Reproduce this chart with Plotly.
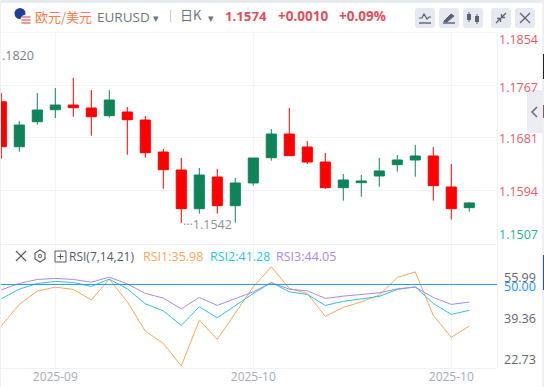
import plotly.graph_objects as go

W, H = 544, 387

# ---------- data ----------
open_ = [1.17396, 1.16658, 1.17068, 1.17265, 1.17342, 1.17293, 1.17167, 1.17227, 1.17096, 1.16571,
         1.16276, 1.15641, 1.16161, 1.15691, 1.16063, 1.16478, 1.16866, 1.16653, 1.16407, 1.15986,
         1.16068, 1.16178, 1.16363, 1.16440, 1.16506, 1.15997, 1.15658]
close = [1.16658, 1.17014, 1.17260, 1.17342, 1.17298, 1.17150, 1.17424, 1.17101, 1.16560, 1.16281,
         1.15641, 1.16194, 1.15691, 1.16063, 1.16473, 1.16866, 1.16511, 1.16407, 1.15986, 1.16112,
         1.16096, 1.16260, 1.16440, 1.16506, 1.16019, 1.15641, 1.15735]
high = [1.17539, 1.17080, 1.17539, 1.17621, 1.17785, 1.17588, 1.17588, 1.17309, 1.17162, 1.16620,
        1.16473, 1.16309, 1.16292, 1.16145, 1.16473, 1.16948, 1.17293, 1.16752, 1.16555, 1.16210,
        1.16194, 1.16473, 1.16522, 1.16686, 1.16653, 1.16374, 1.15751]
low = [1.16461, 1.16576, 1.17019, 1.17129, 1.17150, 1.16839, 1.17134, 1.16527, 1.16478, 1.15969,
       1.15407, 1.15559, 1.15559, 1.15412, 1.16019, 1.16429, 1.16511, 1.16374, 1.15964, 1.15773,
       1.15838, 1.16002, 1.16248, 1.16166, 1.15773, 1.15461, 1.15592]
rsi1 = [36.06, 43.27, 47.74, 49.09, 48.32, 44.81, 51.78, 44.14, 34.28, 30.13, 22.49, 37.98, 31.48, 40.24,
        49.19, 55.93, 48.65, 46.97, 39.23, 42.26, 44.14, 46.40, 52.36, 54.24, 39.56, 32.15, 35.98]
rsi2 = [45.15, 48.42, 50.34, 51.01, 50.67, 49.33, 51.78, 48.52, 43.47, 41.11, 36.20, 42.46, 38.75, 42.79,
        46.97, 50.67, 47.51, 46.63, 42.93, 44.28, 45.05, 45.96, 48.32, 49.19, 43.60, 39.90, 41.28]
rsi3 = [48.18, 50.34, 51.68, 52.02, 51.68, 50.77, 52.46, 50.20, 46.97, 45.39, 41.78, 45.62, 42.93, 45.29,
        47.51, 50.54, 48.42, 47.85, 45.29, 46.06, 46.63, 47.17, 48.52, 49.09, 45.62, 43.27, 44.05]
bar_index = list(range(len(close)))
month_ticks = [3, 14, 25]
month_labels = ["2025-09", "2025-10", "2025-10"]
price_ticks = [1.1854, 1.1767, 1.1681, 1.1594, 1.1507]
rsi_ticks = [55.99, 39.36, 22.73]

# ---------- styles ----------
RED = "#FF0000"
GREEN = "#108459"
ORANGE = "#F6A75F"
CYAN = "#30C3DA"
PURPLE = "#A98BE6"
BLUE = "#2196F3"
GRID = "#F3F4F8"
TXT_RED = "#E45B69"
FONT = "Open Sans, Noto Sans, sans-serif"
CJK = "Noto Sans CJK SC, sans-serif"


def px(x):
    return x / W


def py(y):
    return 1 - y / H


fig = go.Figure()
fig.add_trace(go.Candlestick(
    x=bar_index, open=open_, high=high, low=low, close=close,
    increasing=dict(line=dict(color=GREEN, width=1), fillcolor=GREEN),
    decreasing=dict(line=dict(color=RED, width=1), fillcolor=RED),
    whiskerwidth=0, xaxis="x", yaxis="y", hoverinfo="skip",
))
for vals, col in ((rsi1, ORANGE), (rsi2, CYAN), (rsi3, PURPLE)):
    fig.add_trace(go.Scatter(x=bar_index, y=vals, mode="lines", line=dict(color=col, width=1),
                             xaxis="x2", yaxis="y2", hoverinfo="skip"))

shapes = []


def rect(x0, y0, x1, y1, fill, layer="below", line=None):
    shapes.append(dict(type="rect", xref="paper", yref="paper", x0=px(x0), x1=px(x1), y0=py(y0), y1=py(y1),
                       fillcolor=fill, line=dict(width=0) if line is None else line, layer=layer))


def path(pts, color, width=1.3, fill=None, close_it=False):
    d = "M" + " L".join(f"{px(a):.5f},{py(b):.5f}" for a, b in pts) + (" Z" if close_it else "")
    shapes.append(dict(type="path", xref="paper", yref="paper", path=d, layer="above",
                       line=dict(color=color, width=width), fillcolor=fill))


def circle(cx, cy, r, fill):
    shapes.append(dict(type="circle", xref="paper", yref="paper", x0=px(cx - r), x1=px(cx + r),
                       y0=py(cy + r), y1=py(cy - r), fillcolor=fill, line=dict(width=0), layer="above"))


# page chrome
rect(0, 0, W, 3, "#E7EAEF")
rect(0, 0, 1, H, "#EEF0F4")
rect(542, 0, W, H, "#EEF0F4")
rect(543, 54, W, 79, "#222222", "above")
rect(543, 105, W, 118, "#8A5A50", "above")
rect(543, 255, W, 290, "#2A4FA8", "above")
rect(1, 32, 497, 33, "#F5F6F9")
rect(497, 33, 498, 368, "#EFF1F5")
rect(1, 244, 497, 245, "#EEF0F5", "above")
rect(1, 368, 497, 369, "#EEF0F5", "above")
rect(527, 90, 542, 133, "#ECEDF2", "above")
path([(537, 107), (532, 112), (537, 117)], "#6B7080", 1.6)

# flags
circle(20, 13.5, 5.5, "#1E3F98")
circle(26, 20, 5.5, "#F4F4F6")
for yy in (17, 20, 23):
    path([(21.5, yy), (30.5, yy)], "#D9606A", 1.2)

# toolbar buttons
for x0 in (415, 439, 463, 491, 515):
    shapes.append(dict(type="path", xref="paper", yref="paper", layer="below", fillcolor="#E6E9F0",
                       line=dict(width=0),
                       path=(f"M{px(x0+3):.5f},{py(8):.5f} L{px(x0+17):.5f},{py(8):.5f} Q{px(x0+20):.5f},{py(8):.5f} {px(x0+20):.5f},{py(11):.5f} "
                             f"L{px(x0+20):.5f},{py(25):.5f} Q{px(x0+20):.5f},{py(28):.5f} {px(x0+17):.5f},{py(28):.5f} "
                             f"L{px(x0+3):.5f},{py(28):.5f} Q{px(x0):.5f},{py(28):.5f} {px(x0):.5f},{py(25):.5f} "
                             f"L{px(x0):.5f},{py(11):.5f} Q{px(x0):.5f},{py(8):.5f} {px(x0+3):.5f},{py(8):.5f} Z")))
ICON = "#5C6270"
path([(419, 18), (422, 18), (424, 14), (427, 19), (429, 17), (431, 17)], ICON, 1.2)
path([(419, 23), (431, 23)], ICON, 1.4)
path([(444, 21), (451, 14), (454, 16), (447, 22), (444, 22)], ICON, 1, ICON, True)
path([(443, 23), (455, 23)], ICON, 1.4)
path([(469, 12), (469, 22)], ICON, 1)
path([(477, 14), (477, 24)], ICON, 1)
rect(467, 14, 471, 20, ICON, "above")
rect(475, 16, 479, 22, ICON, "above")
path([(496, 23), (500, 19)], ICON, 1.3)
path([(497, 18.5), (500.5, 18.5), (500.5, 22)], ICON, 1.3)
path([(506, 13), (502, 17)], ICON, 1.3)
path([(501.5, 14), (501.5, 17.5), (505, 17.5)], ICON, 1.3)
path([(520, 13), (530, 23)], ICON, 1.2)
path([(530, 13), (520, 23)], ICON, 1.2)
path([(170.5, 10), (170.5, 22)], "#C9CDD6", 1)

# RSI pane controls
path([(16, 251), (26, 261)], "#555A66", 1.2)
path([(26, 251), (16, 261)], "#555A66", 1.2)
path([(40, 250), (45, 253), (45, 259), (40, 262), (35, 259), (35, 253)], "#555A66", 1.1, None, True)
circle(40, 256, 2, "#555A66")
circle(40, 256, 1, "#FFFFFF")
path([(55, 251), (66, 251), (66, 262), (55, 262)], "#555A66", 1, None, True)
path([(57.5, 256.5), (63.5, 256.5)], "#555A66", 1)
path([(60.5, 253.5), (60.5, 259.5)], "#555A66", 1)

# 50 line of the RSI pane
shapes.append(dict(type="line", xref="paper", yref="y2", x0=px(1), x1=px(497), y0=50, y1=50,
                   line=dict(color=BLUE, width=1), layer="above"))

annotations = []


def txt(x, y, s, color, size=13, anchor="left", family=FONT):
    annotations.append(dict(xref="paper", yref="paper", x=px(x), y=py(y), text=s, showarrow=False,
                            xanchor=anchor, yanchor="middle", font=dict(color=color, size=size, family=family),
                            borderpad=0, borderwidth=0))


def value_label(v, ref, shift, color):
    annotations.append(dict(xref="paper", yref=ref, x=px(540 if ref == "y" else 538), y=v, yshift=shift,
                            text=f"{v:.4f}" if ref == "y" else f"{v:.2f}",
                            showarrow=False, xanchor="right", yanchor="middle",
                            font=dict(color=color, size=12.5, family=FONT)))


txt(35, 16, "欧元/美元", "#F97C50", 13, family=CJK)
txt(97, 17, "EURUSD", "#6F7482", 13.5)
txt(153, 17, "▾", "#6F7482", 11)
txt(180, 15, "日K", "#6F7482", 13, family=CJK)
txt(208, 17, "▾", "#6F7482", 11)
txt(225, 16, "<b>1.1574</b>", "#E04F5F", 13.2)
txt(277.5, 16, "<b>+0.0010</b>", "#E04F5F", 13.5)
txt(339, 16, "<b>+0.09%</b>", "#E04F5F", 13.5)
txt(2, 55.5, ".1820", "#7C808C", 12.5)
txt(69, 256, "RSI(7,14,21)", "#555A66", 12)
txt(143, 256, "RSI1:35.98", ORANGE, 12.5)
txt(210, 256, "RSI2:41.28", CYAN, 12.5)
txt(276, 256, "RSI3:44.05", PURPLE, 12.5)

# price scale labels (the scale nudges the outer labels inside the pane)
for v, shift in zip(price_ticks, (-8, -2, -1, -1, 9)):
    value_label(v, "y", shift, TXT_RED if v > 1.152 else "#27B09A")
for v, shift in zip(rsi_ticks, (-11, -3, 6)):
    value_label(v, "y2", shift, "#5F6472")
value_label(50.00, "y2", -2, BLUE)

# lowest-price marker
annotations.append(dict(xref="x", yref="y", x=bar_index[low.index(min(low))], y=min(low), yshift=-2,
                        text="···1.1542", showarrow=False, xanchor="left", yanchor="middle",
                        font=dict(color="#8E919C", size=12.5, family=FONT)))

axis_common = dict(showgrid=True, gridcolor=GRID, gridwidth=1, zeroline=False, showline=False, fixedrange=True)
x_range = [-0.017, 27.54]

fig.update_layout(
    width=W, height=H, margin=dict(l=0, r=0, t=0, b=0, pad=0, autoexpand=False),
    paper_bgcolor="#FFFFFF", plot_bgcolor="rgba(0,0,0,0)", showlegend=False, boxgap=0.44, boxgroupgap=0,
    hovermode=False,
    xaxis=dict(domain=[px(1), px(497)], range=x_range, anchor="y", tickmode="array", tickvals=month_ticks,
               showticklabels=False, rangeslider=dict(visible=False), **axis_common),
    yaxis=dict(domain=[py(244), py(32)], range=[1.15062, 1.18540], anchor="x", tickmode="array",
               tickvals=price_ticks[1:], showticklabels=False, **axis_common),
    xaxis2=dict(domain=[px(1), px(497)], range=x_range, anchor="y2", tickmode="array", tickvals=month_ticks,
                ticktext=month_labels, ticks="", tickfont=dict(color="#A6AAB6", size=12, family=FONT), **axis_common),
    yaxis2=dict(domain=[py(368), py(244)], range=[21.82, 63.64], anchor="x2", showgrid=False, zeroline=False,
                showticklabels=False, fixedrange=True),
    shapes=shapes, annotations=annotations,
)

fig.write_html("out.html", config=dict(displayModeBar=False),
               post_script="document.body.style.margin='0';document.body.style.overflow='hidden';")
